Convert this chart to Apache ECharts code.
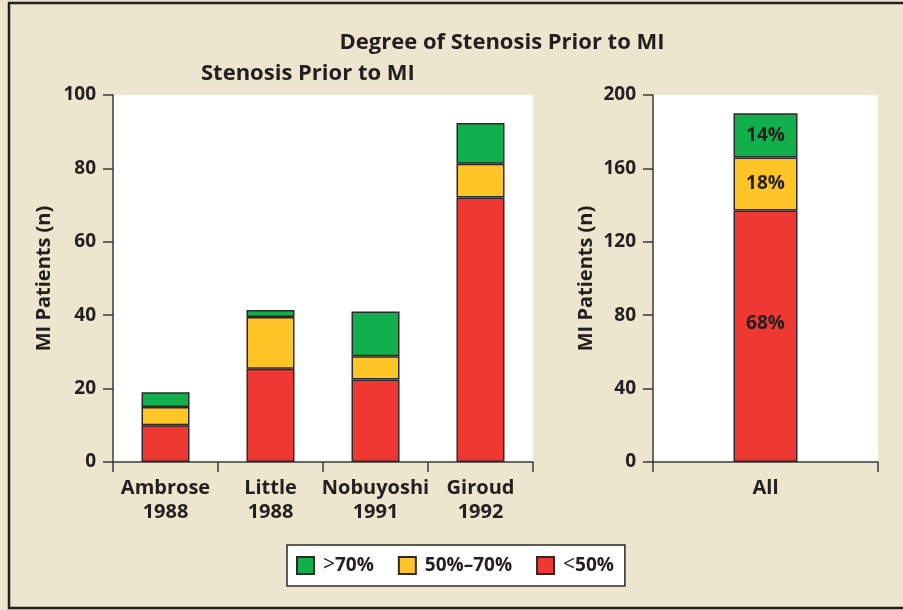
<!DOCTYPE html>
<html><head><meta charset="utf-8">
<script src="https://cdn.jsdelivr.net/npm/echarts@6/dist/echarts.min.js"></script>
<style>html,body{margin:0;padding:0;background:#EDE5CE}#c{width:903px;height:610px}</style>
</head><body><div id="c"></div>
<script>
var categories = ['Ambrose\n1988', 'Little\n1988', 'Nobuyoshi\n1991', 'Giroud\n1992'];
var allCategory = ['All'];
var seriesNames = ['<50%', '50%–70%', '>70%'];
var lt50 = [10, 25.4, 22.5, 72.1];
var mid5070 = [5, 14.1, 6.3, 9.2];
var gt70 = [4, 1.9, 12.2, 11.1];
var allLt50 = [137];
var allMid = [29];
var allGt70 = [24];
var allLabels = ['68%', '18%', '14%'];
var leftTicks = [0, 20, 40, 60, 80, 100];
var rightTicks = [0, 40, 80, 120, 160, 200];

var txt = '#231F20';
var font = 'Open Sans';
var colors = ['#EE3831', '#FFC425', '#12B04C'];

var chart = echarts.init(document.getElementById('c'));
function yAxis(idx, max, interval, gap) {
  return {
    type: 'value', gridIndex: idx, min: 0, max: max, interval: interval,
    name: 'MI Patients (n)', nameLocation: 'middle', nameGap: gap,
    nameTextStyle: {color: txt, fontFamily: font, fontWeight: 'bold', fontSize: 20},
    axisLine: {show: true, lineStyle: {color: '#3a3a3a', width: 1.5}},
    axisTick: {show: true, length: 10, lineStyle: {color: '#3a3a3a', width: 1.5}},
    axisLabel: {color: txt, fontFamily: font, fontWeight: 'bold', fontSize: 19, margin: 17},
    splitLine: {show: false}
  };
}
function xAxis(idx, data) {
  return {
    type: 'category', gridIndex: idx, data: data,
    axisLine: {show: true, lineStyle: {color: '#3a3a3a', width: 1.5}},
    axisTick: {show: true, length: 10, alignWithLabel: false, lineStyle: {color: '#3a3a3a', width: 1.5}},
    axisLabel: {color: txt, fontFamily: font, fontWeight: 'bold', fontSize: 20, lineHeight: 24, margin: 14, interval: 0}
  };
}
var barBorder = {borderColor: '#2a2a2a', borderWidth: 1.5};
function bar(name, data, xi, color, stack, width, labels, offset) {
  var s = {
    name: name, type: 'bar', stack: stack, xAxisIndex: xi, yAxisIndex: xi,
    data: data, barWidth: width,
    itemStyle: Object.assign({color: color}, barBorder)
  };
  if (labels) {
    s.label = {show: true, position: 'inside', formatter: function(){ return labels; },
      color: txt, fontFamily: font, fontWeight: 'bold', fontSize: 19, offset: offset || [0, 0]};
  }
  return s;
}
chart.setOption({
  backgroundColor: '#EDE5CE',
  animation: false,
  title: [
    {text: 'Degree of Stenosis Prior to MI', left: 497, top: 27, textAlign: 'center',
      textStyle: {color: txt, fontFamily: font, fontWeight: 'bold', fontSize: 22}},
    {text: 'Stenosis Prior to MI', left: 196, top: 58,
      textStyle: {color: txt, fontFamily: font, fontWeight: 'bold', fontSize: 22}}
  ],
  grid: [
    {left: 113, right: 370, top: 95, bottom: 148, show: true, backgroundColor: '#ffffff', borderWidth: 0},
    {left: 653, right: 25, top: 95, bottom: 148, show: true, backgroundColor: '#ffffff', borderWidth: 0}
  ],
  xAxis: [xAxis(0, categories), xAxis(1, allCategory)],
  yAxis: [yAxis(0, 100, 20, 59), yAxis(1, 200, 40, 57)],
  legend: {
    data: [seriesNames[2], seriesNames[1], seriesNames[0]],
    icon: 'rect',
    left: 287, top: 545, padding: [10, 11, 10, 9], itemGap: 24,
    itemWidth: 17, itemHeight: 17,
    backgroundColor: '#ffffff', borderColor: '#2a2a2a', borderWidth: 1.5,
    formatter: function(n){ return n.replace(/^([<>])/, '{s|$1}'); },
    textStyle: {color: txt, fontFamily: font, fontWeight: 'bold', fontSize: 19, padding: [0, 0, 0, 4],
      rich: {s: {fontFamily: font, fontWeight: 'normal', fontSize: 21, color: txt}}}
  },
  graphic: [
    {type: 'rect', silent: true, z: 100, shape: {x: 9, y: 3, width: 930, height: 605},
      style: {fill: 'none', stroke: '#231F20', lineWidth: 2.5}}
  ],
  series: [
    bar(seriesNames[0], lt50, 0, colors[0], 'a', 48),
    bar(seriesNames[1], mid5070, 0, colors[1], 'a', 48),
    bar(seriesNames[2], gt70, 0, colors[2], 'a', 48),
    bar(seriesNames[0], allLt50, 1, colors[0], 'b', 64, allLabels[0], [0, -13]),
    bar(seriesNames[1], allMid, 1, colors[1], 'b', 64, allLabels[1], [0, 0]),
    bar(seriesNames[2], allGt70, 1, colors[2], 'b', 64, allLabels[2], [0, 0])
  ]
});
</script></body></html>
